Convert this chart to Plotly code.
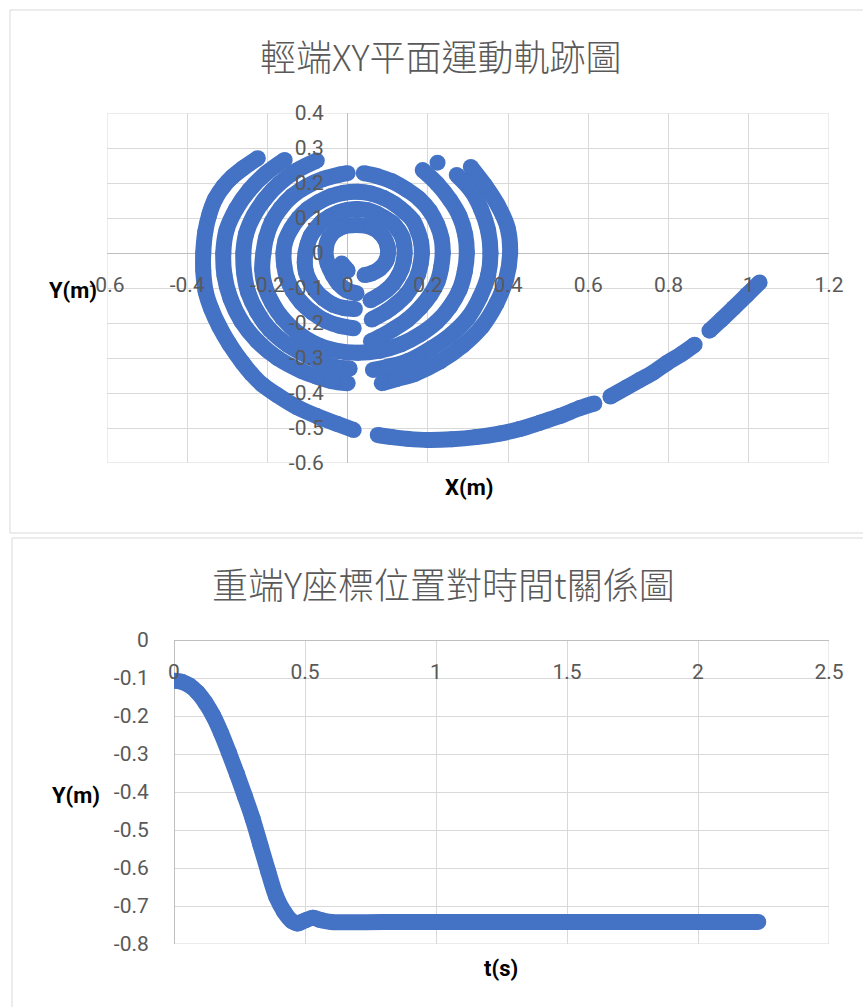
import plotly.graph_objects as go

# ---------------- data ----------------
# Light end, XY trajectory (m). Each list is a stretch of the track; None marks
# a break in the recorded points.
swing_arc = [
    (1.027, -0.084), (0.995, -0.12), (0.962, -0.157), (0.932, -0.19), (0.902, -0.222), None,
    (0.865, -0.262), (0.833, -0.288), (0.795, -0.315), (0.761, -0.342), (0.728, -0.363),
    (0.695, -0.384), (0.655, -0.41), None,
    (0.615, -0.43), (0.579, -0.443), (0.529, -0.466), (0.479, -0.485), (0.429, -0.503),
    (0.379, -0.516), (0.32, -0.526), (0.26, -0.532), (0.2, -0.534), (0.15, -0.531),
    (0.11, -0.526), (0.075, -0.52), None,
    (0.015, -0.506), (-0.027, -0.488), (-0.077, -0.466), (-0.127, -0.44), (-0.177, -0.405),
    (-0.212, -0.377), (-0.24, -0.345), (-0.262, -0.314), (-0.295, -0.26), (-0.32, -0.21),
    (-0.34, -0.16), (-0.354, -0.11), (-0.36, -0.05), (-0.36, 0.0), (-0.355, 0.06),
    (-0.345, 0.11), (-0.33, 0.155), (-0.31, 0.19), (-0.287, 0.218), (-0.26, 0.243),
    (-0.224, 0.271),
]
lap1 = [
    (0.307, 0.246), (0.342, 0.194), (0.374, 0.137), (0.399, 0.071), (0.405, 0.0),
    (0.395, -0.075), (0.371, -0.144), (0.335, -0.21), (0.288, -0.263), (0.23, -0.31),
    (0.168, -0.345), (0.122, -0.36), (0.085, -0.372), None,
    (0.0, -0.372), (-0.04, -0.366), (-0.08, -0.352), (-0.115, -0.337), (-0.175, -0.3),
    (-0.226, -0.251), (-0.265, -0.195), (-0.292, -0.131), (-0.307, -0.065), (-0.31, 0.0),
    (-0.302, 0.065), (-0.278, 0.126), (-0.245, 0.18), (-0.203, 0.228), (-0.157, 0.266),
]
lap2 = [
    (0.272, 0.223), (0.308, 0.178), (0.332, 0.127), (0.35, 0.065), (0.356, 0.0),
    (0.35, -0.065), (0.33, -0.126), (0.3, -0.185), (0.258, -0.233), (0.208, -0.273),
    (0.152, -0.308), (0.1, -0.325), (0.063, -0.334), None,
    (0.005, -0.33), (-0.03, -0.326), (-0.065, -0.312), (-0.097, -0.296), (-0.15, -0.262),
    (-0.194, -0.219), (-0.226, -0.168), (-0.248, -0.113), (-0.258, -0.057), (-0.26, 0.0),
    (-0.253, 0.055), (-0.234, 0.107), (-0.206, 0.155), (-0.172, 0.197), (-0.128, 0.235),
    (-0.077, 0.264),
]
lap3 = [
    (0.224, 0.258), None,
    (0.187, 0.237), (0.223, 0.198), (0.255, 0.152), (0.279, 0.105), (0.293, 0.053),
    (0.297, 0.0), (0.292, -0.053), (0.279, -0.105), (0.255, -0.153), (0.222, -0.197),
    (0.18, -0.233), (0.133, -0.261), (0.08, -0.279), (0.025, -0.285), (-0.03, -0.279),
    (-0.082, -0.259), (-0.125, -0.228), (-0.162, -0.187), (-0.188, -0.143), (-0.206, -0.096),
    (-0.213, -0.048), (-0.21, 0.0), (-0.203, 0.045), (-0.189, 0.089), (-0.167, 0.128),
    (-0.138, 0.163), (-0.102, 0.191), (-0.062, 0.211), (-0.02, 0.224), (0.0, 0.228),
]
lap4 = [
    (0.04, 0.228), (0.075, 0.219), (0.11, 0.205), (0.147, 0.181), (0.179, 0.154),
    (0.205, 0.12), (0.223, 0.082), (0.234, 0.042), (0.237, 0.0), (0.233, -0.042),
    (0.224, -0.082), (0.206, -0.12), (0.181, -0.156), (0.15, -0.19), (0.115, -0.217),
    (0.08, -0.24), (0.058, -0.252), None,
    (0.015, -0.215), (-0.02, -0.208), (-0.055, -0.194), (-0.088, -0.17), (-0.116, -0.141),
    (-0.137, -0.108), (-0.151, -0.073), (-0.158, -0.037), (-0.16, 0.0), (-0.155, 0.035),
    (-0.141, 0.069), (-0.122, 0.1), (-0.1, 0.125), (-0.072, 0.146), (-0.042, 0.162),
    (-0.01, 0.172), (0.025, 0.175), (0.058, 0.17), (0.09, 0.157), (0.118, 0.139),
    (0.142, 0.117), (0.163, 0.092), (0.175, 0.062), (0.183, 0.031), (0.185, 0.0),
    (0.182, -0.031), (0.175, -0.062), (0.162, -0.092), (0.145, -0.12), (0.122, -0.145),
    (0.095, -0.168), (0.06, -0.19),
]
lap5 = [
    (0.018, -0.16), (-0.01, -0.157), (-0.036, -0.148), (-0.06, -0.13), (-0.081, -0.106),
    (-0.095, -0.08), (-0.104, -0.054), (-0.107, -0.027), (-0.105, 0.0), (-0.1, 0.025),
    (-0.092, 0.049), (-0.079, 0.07), (-0.064, 0.089), (-0.045, 0.104), (-0.023, 0.116),
    (0.0, 0.123), (0.025, 0.126), (0.05, 0.122), (0.072, 0.113), (0.092, 0.1),
    (0.112, 0.085), (0.127, 0.064), (0.137, 0.043), (0.141, 0.022), (0.142, 0.0),
    (0.14, -0.022), (0.135, -0.044), (0.126, -0.066), (0.113, -0.088), (0.097, -0.106),
    (0.077, -0.122), (0.057, -0.135),
]
core = [
    (0.022, -0.115), (-0.003, -0.106), (-0.022, -0.088), (-0.037, -0.063), (-0.05, -0.03),
    (-0.055, 0.009), (-0.045, 0.046), (-0.02, 0.071), (0.022, 0.08), (0.062, 0.072),
    (0.088, 0.048), (0.1, 0.015), (0.097, -0.02), (0.08, -0.045), (0.06, -0.058),
    (0.042, -0.063), None,
    (0.0, -0.05), (-0.015, -0.03),
]

# Heavy end, Y position (m) against time t (s)
t_s = [0.0, 0.03, 0.06, 0.09, 0.12, 0.15, 0.18, 0.21, 0.24, 0.27, 0.30, 0.33, 0.36,
       0.39, 0.42, 0.45, 0.47, 0.50, 0.53, 0.56, 0.60, 0.80, 1.00, 1.20, 1.40, 1.60,
       1.80, 2.00, 2.23]
y_heavy = [-0.107, -0.11, -0.12, -0.138, -0.165, -0.2, -0.245, -0.297, -0.352, -0.41,
           -0.47, -0.54, -0.61, -0.675, -0.715, -0.74, -0.746, -0.738, -0.731, -0.737,
           -0.742, -0.742, -0.742, -0.742, -0.742, -0.742, -0.742, -0.742, -0.742]

# Tick values and labels
xy_x_ticks = [-0.6, -0.4, -0.2, 0, 0.2, 0.4, 0.6, 0.8, 1.0, 1.2]
xy_x_labels = ["-0.6", "-0.4", "-0.2", "0", "0.2", "0.4", "0.6", "0.8", "1", "1.2"]
xy_y_ticks = [-0.6, -0.5, -0.4, -0.3, -0.2, -0.1, 0, 0.1, 0.2, 0.3, 0.4]
xy_y_labels = ["-0.6", "-0.5", "-0.4", "-0.3", "-0.2", "-0.1", "0", "0.1", "0.2", "0.3", "0.4"]
t_ticks = [0, 0.5, 1.0, 1.5, 2.0, 2.5]
t_labels = ["0", "0.5", "1", "1.5", "2", "2.5"]
ty_ticks = [-0.8, -0.7, -0.6, -0.5, -0.4, -0.3, -0.2, -0.1, 0]
ty_labels = ["-0.8", "-0.7", "-0.6", "-0.5", "-0.4", "-0.3", "-0.2", "-0.1", "0"]

title_top = "輕端XY平面運動軌跡圖"
title_bottom = "重端Y座標位置對時間t關係圖"

# ---------------- styling ----------------
W, H = 863, 1007
BLUE = "#4472C4"
GRID = "#D9D9D9"
AXIS = "#BFBFBF"
TEXT = "#595959"
LATIN = "Roboto, 'Liberation Sans', Arial, sans-serif"
CJK = "'Noto Sans CJK TC', 'Noto Sans CJK SC', sans-serif"
DOT = 16


def fx(px):
    return px / W


def fy(py):
    return 1 - py / H


def join(*runs):
    xs, ys = [], []
    for i, run in enumerate(runs):
        if i:
            xs.append(None)
            ys.append(None)
        for p in run:
            if p is None:
                xs.append(None)
                ys.append(None)
            else:
                xs.append(p[0])
                ys.append(p[1])
    return xs, ys


light_x, light_y = join(swing_arc, lap1, lap2, lap3, lap4, lap5, core)

fig = go.Figure()
fig.add_trace(go.Scatter(
    x=light_x, y=light_y, xaxis="x", yaxis="y", mode="lines+markers",
    line=dict(color=BLUE, width=DOT, shape="spline"),
    marker=dict(color=BLUE, size=DOT), connectgaps=False, hoverinfo="skip",
))
fig.add_trace(go.Scatter(
    x=t_s, y=y_heavy, xaxis="x2", yaxis="y2", mode="lines+markers",
    line=dict(color=BLUE, width=DOT, shape="spline"),
    marker=dict(color=BLUE, size=DOT), hoverinfo="skip",
))

tick_font = dict(family=LATIN, size=21, color=TEXT)
common = dict(showgrid=True, gridcolor=GRID, gridwidth=1, zeroline=True,
              zerolinecolor=AXIS, zerolinewidth=1, showline=False, ticks="outside",
              tickcolor="rgba(0,0,0,0)", tickfont=tick_font, fixedrange=True,
              automargin=False)

fig.update_layout(
    template="none",
    width=W, height=H, autosize=False,
    margin=dict(l=0, r=0, t=0, b=0, pad=0, autoexpand=False),
    paper_bgcolor="white", plot_bgcolor="white", showlegend=False,
    xaxis=dict(domain=[fx(107), fx(829)], range=[-0.6, 1.2], tickmode="array",
               tickvals=xy_x_ticks, ticktext=xy_x_labels, anchor="free",
               position=fy(253), side="bottom", ticklen=13, **common),
    yaxis=dict(domain=[fy(463), fy(113)], range=[-0.6, 0.4], tickmode="array",
               tickvals=xy_y_ticks, ticktext=xy_y_labels, anchor="free",
               position=fx(348), side="left", ticklen=20, **common),
    xaxis2=dict(domain=[fx(174), fx(829)], range=[0, 2.5], tickmode="array",
                tickvals=t_ticks, ticktext=t_labels, anchor="free",
                position=fy(640), side="bottom", ticklen=13, **common),
    yaxis2=dict(domain=[fy(944), fy(640)], range=[-0.8, 0], tickmode="array",
                tickvals=ty_ticks, ticktext=ty_labels, anchor="x2",
                side="left", ticklen=20, **common),
)

# chart frames and plot-area edges
shapes = [
    dict(type="rect", xref="paper", yref="paper", x0=fx(10), x1=1.02, y0=fy(533), y1=fy(10),
         line=dict(color=GRID, width=1), layer="below"),
    dict(type="rect", xref="paper", yref="paper", x0=fx(12), x1=1.02, y0=-0.02, y1=fy(538),
         line=dict(color=GRID, width=1), layer="below"),
    dict(type="rect", xref="x", yref="y", x0=-0.6, x1=1.2, y0=-0.6, y1=0.4,
         line=dict(color=GRID, width=1), layer="below"),
    dict(type="rect", xref="x2", yref="y2", x0=0, x1=2.5, y0=-0.8, y1=0,
         line=dict(color=GRID, width=1), layer="below"),
]
fig.update_layout(shapes=shapes)

title_font = dict(family=CJK, size=36, color=TEXT, weight=300)
axis_title_font = dict(family=LATIN, size=22, color="#000000")


def label(text, x, y, font):
    return dict(text=text, x=fx(x), y=fy(y), xref="paper", yref="paper",
                xanchor="center", yanchor="middle", showarrow=False, font=font)


fig.update_layout(annotations=[
    label(title_top, 441, 55, title_font),
    label(title_bottom, 443, 583, title_font),
    label("<b>Y(m)</b>", 73, 290, axis_title_font),
    label("<b>X(m)</b>", 469, 487, axis_title_font),
    label("<b>Y(m)</b>", 76, 795, axis_title_font),
    label("<b>t(s)</b>", 501, 968, axis_title_font),
])

fig.write_html("out.html")
